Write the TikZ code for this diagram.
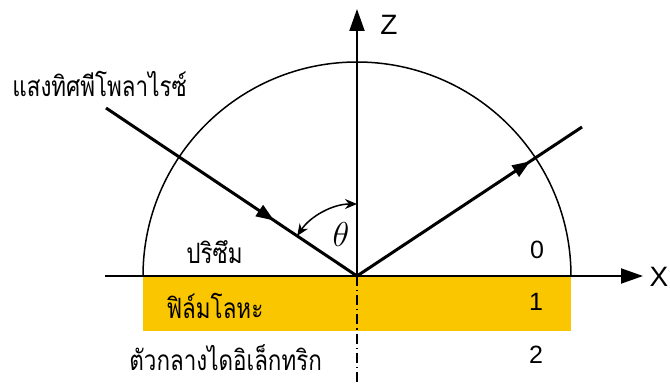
\documentclass[tikz,border=0pt]{standalone}
\usepackage{fontspec}
\setmainfont{Liberation Sans}
\newfontfamily\thaifont[Script=Thai,FakeStretch=0.8]{Loma}
\usetikzlibrary{arrows.meta,decorations.markings}
\definecolor{film}{RGB}{250,198,0}
\tikzset{
  axis/.style={line width=1pt,-{Triangle[length=11pt,width=7.5pt]}},
  semi/.style={line width=0.75pt},
  ray/.style={line width=1.5pt},
  midarrow/.style={postaction={decorate},decoration={markings,
     mark=at position #1 with {\arrow{Triangle[length=9pt,width=6.5pt]}}}},
  thailabel/.style={font=\thaifont\fontsize{14pt}{16pt}\selectfont,inner sep=0pt},
  numlabel/.style={font=\fontsize{12.5pt}{15pt}\selectfont,inner sep=0pt},
  axlabel/.style={font=\fontsize{14pt}{17pt}\selectfont,inner sep=0pt},
  dashdot/.style={line width=0.75pt,dash pattern=on 5pt off 2pt on 0.6pt off 2pt},
  anglearc/.style={line width=0.75pt,{Stealth[length=6pt,width=5pt]}-{Stealth[length=6pt,width=5pt]}}
}
\begin{document}
\begin{tikzpicture}[x=0.5pt,y=-0.5pt]
\useasboundingbox (0,0) rectangle (670,385);
\fill[white] (0,0) rectangle (670,385);
% coordinates
\coordinate (O) at (357,276);
\coordinate (Xs) at (105,276);
\coordinate (Xe) at (643,276);
\coordinate (Ze) at (357,9);
\coordinate (Db) at (357,385);
\coordinate (In) at (106,108);
\coordinate (Out) at (582,127);
% metal film
\fill[film] (143,277) rectangle (571,331);
% semicircle
\draw[semi] (143,276) arc[start angle=180,end angle=360,radius=214];
% axes
\draw[axis] (Xs) -- (Xe);
\draw[axis] (O) -- (Ze);
\draw[dashdot] (O) -- (Db);
% rays
\draw[ray,midarrow=0.67] (In) -- (O);
\draw[ray,midarrow=0.77] (O) -- (Out);
% angle
\draw[anglearc] (O) ++(213.8:72) arc[start angle=213.8,end angle=270,radius=72];
% labels
\node[axlabel] (zl) at (389,25) {Z};
\node[axlabel] (xl) at (659,277) {X};
\node[font=\fontsize{17pt}{20pt}\selectfont,inner sep=0pt] (th) at (341,235) {$\theta$};
\node[thailabel,anchor=west] (light) at (12,84) {แสงทิศพีโพลาไรซ์};
\node[thailabel,anchor=west] (prism) at (186,252) {ปริซึม};
\node[thailabel,anchor=west] (film) at (166,306) {ฟิล์มโลหะ};
\node[thailabel,anchor=west] (diel) at (129,358) {ตัวกลางไดอิเล็กทริก};
\node[numlabel] (n0) at (537,250) {0};
\node[numlabel] (n1) at (536,302) {1};
\node[numlabel] (n2) at (536,355) {2};
\end{tikzpicture}
\end{document}
